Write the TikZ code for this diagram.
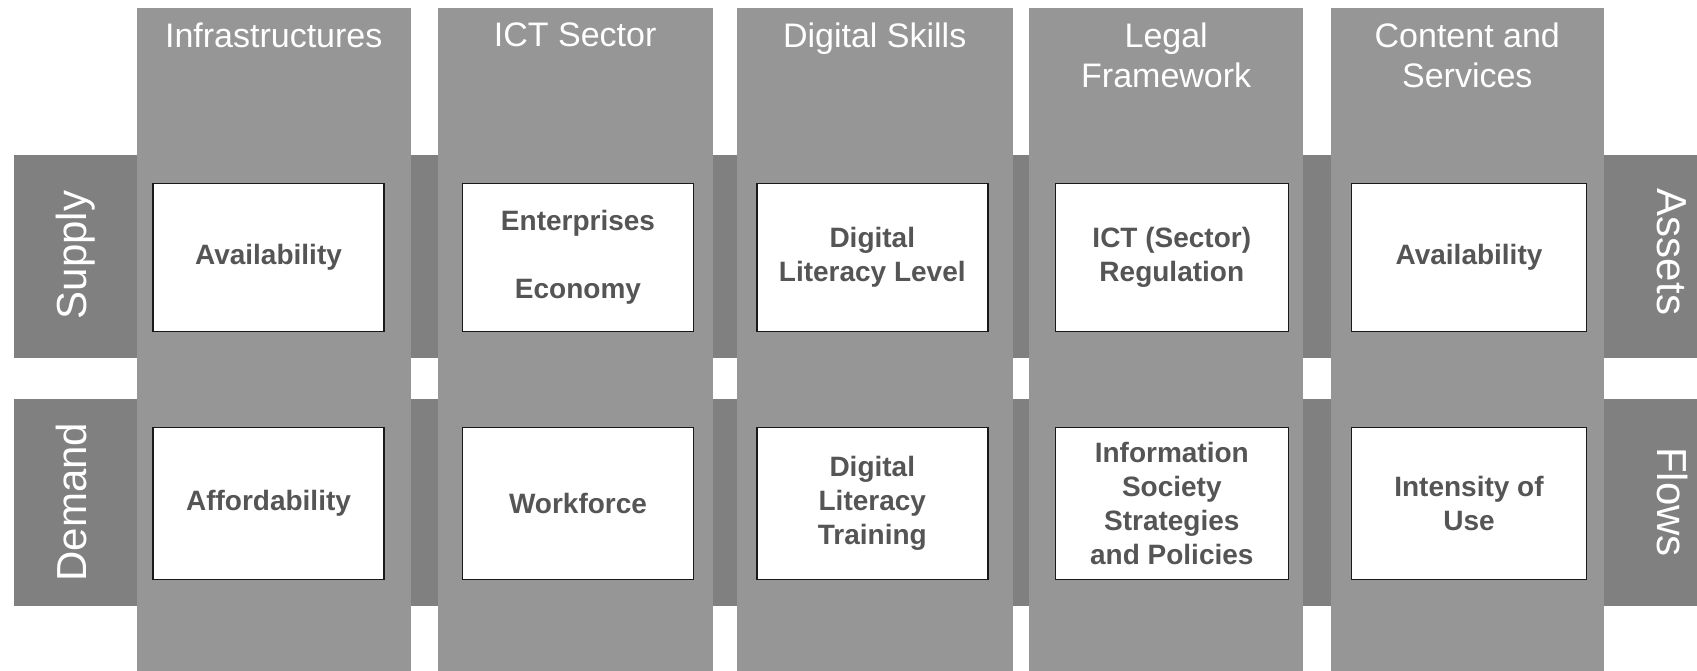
\documentclass[tikz,border=0pt]{standalone}
\usepackage{fontspec}
\setmainfont{Liberation Sans}
\definecolor{colgray}{HTML}{969696}
\definecolor{bandgray}{HTML}{808080}
\definecolor{cellink}{HTML}{555555}
\tikzset{
  colfill/.style={fill=colgray},
  rowband/.style={fill=bandgray},
  colhead/.style={anchor=north, inner sep=0pt, align=center, text=white, font=\fontsize{34}{40}\selectfont},
  rowlabel/.style={anchor=base, inner sep=0pt, text=white, font=\fontsize{42}{48}\selectfont},
  cellbox/.style={draw=black!90, line width=1.6pt, fill=white, minimum width=231pt, inner sep=0pt, align=center, text=cellink, font=\fontsize{28}{34}\selectfont\bfseries},
}
\begin{document}
\begin{tikzpicture}[x=1pt,y=-1pt]
\useasboundingbox (0,0) rectangle (1697,671);
% bands go first, the columns lie over them
\fill[rowband] (14,155) rectangle (1697,358);
\fill[rowband] (14,399) rectangle (1697,606);
\fill[colfill] (137,8) rectangle (410.5,671);
\fill[colfill] (437.7,8) rectangle (712.7,671);
\fill[colfill] (736.7,8) rectangle (1012.7,671);
\fill[colfill] (1029,8) rectangle (1303.3,671);
\fill[colfill] (1330.7,8) rectangle (1604,671);

\node[colhead] (infra) at (273.7,22.5) {Infrastructures};
\node[colhead] (ict) at (575.2,22.5) {ICT Sector};
\node[colhead] (skills) at (874.7,22.5) {Digital Skills};
\node[colhead] (legal) at (1166.2,22.5) {Legal\\Framework};
\node[colhead] (content) at (1467.3,22.5) {Content and\\Services};

\node[rowlabel, rotate=90] (supply) at (86,255) {Supply};
\node[rowlabel, rotate=90] (demand) at (86,502) {Demand};
\node[rowlabel, rotate=-90] (assets) at (1657,252) {Assets};
\node[rowlabel, rotate=-90] (flows) at (1657,502) {Flows};

\node[cellbox, minimum height=148pt] (infraS) at (268.5,257.5) {Availability};
\node[cellbox, minimum height=148pt] (ictS) at (578,257.5) {Enterprises\\[34pt]Economy};
\node[cellbox, minimum height=148pt] (skillsS) at (872.3,257.5) {Digital\\Literacy Level};
\node[cellbox, minimum height=148pt, minimum width=233pt] (legalS) at (1171.8,257.5) {ICT (Sector)\\Regulation};
\node[cellbox, minimum height=148pt, minimum width=235pt] (contentS) at (1469,257.5) {Availability};

\node[cellbox, minimum height=152pt] (infraD) at (268.5,503.5) {Affordability};
\node[cellbox, minimum height=152pt] (ictD) at (578,503.5) {Workforce};
\node[cellbox, minimum height=152pt] (skillsD) at (872.3,503.5) {Digital\\Literacy\\Training};
\node[cellbox, minimum height=152pt, minimum width=233pt] (legalD) at (1171.8,503.5) {Information\\Society\\Strategies\\and Policies};
\node[cellbox, minimum height=152pt, minimum width=235pt] (contentD) at (1469,503.5) {Intensity of\\Use};
\end{tikzpicture}
\end{document}
